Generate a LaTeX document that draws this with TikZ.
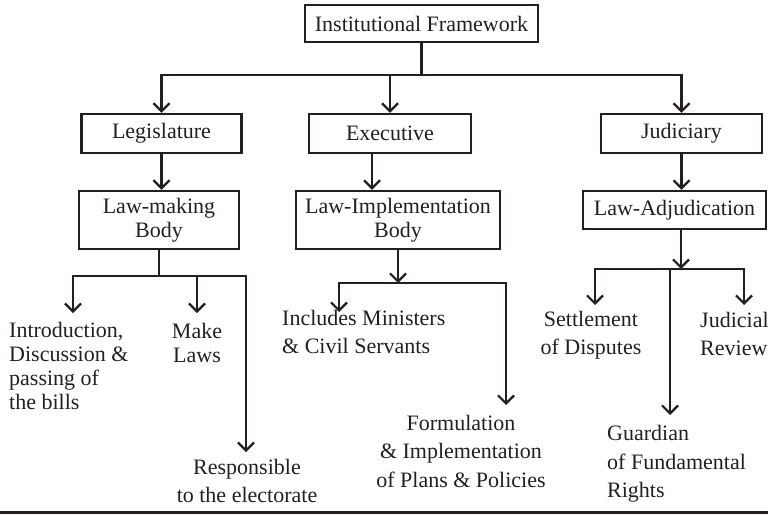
\documentclass[tikz,border=0pt]{standalone}
\usepackage{fontspec}
\setmainfont{Liberation Serif}
\usetikzlibrary{arrows.meta,positioning,calc}

\definecolor{ink}{HTML}{231F20}
\tikzset{
 box/.style={draw=ink,text=ink,line width=2.4pt,align=center,inner sep=0pt},
 ln/.style={draw=ink,line width=2.2pt},
 arr/.style={ln,-{Straight Barb[length=8pt,width=16pt]}},
 lbl/.style={text=ink,inner sep=0pt,align=center,font=\fontsize{22}{28.5}\selectfont}
}

\begin{document}
\begin{tikzpicture}[x=1pt,y=-1pt,font=\fontsize{22}{24}\selectfont]
\useasboundingbox (0,0) rectangle (768,514);
\clip (0,0) rectangle (768,514);
% the boxes
\node[box,minimum width=233pt,minimum height=37pt] (frame) at (421.5,23.5) {Institutional Framework};
\node[box,minimum width=160pt,minimum height=39pt] (leg) at (161.5,133.5) {Legislature};
\node[box,minimum width=162pt,minimum height=39pt] (exe) at (390,133.5) {Executive};
\node[box,minimum width=161pt,minimum height=39pt] (jud) at (681.5,133.5) {Judiciary};
\node[box,minimum width=160pt,minimum height=58pt] (lmb) at (159,220) {Law-making\\Body};
\node[box,minimum width=204pt,minimum height=58pt] (lib) at (398,220) {Law-Implementation\\Body};
\node[box,minimum width=183pt,minimum height=38pt] (lab) at (674.5,210) {Law-Adjudication};
% the functions
\node[lbl,anchor=west,align=left,font=\fontsize{22}{23.7}\selectfont] (intro) at (9,366) {Introduction,\\Discussion \&\\passing of\\the bills};
\node[lbl,font=\fontsize{22}{24}\selectfont] (make) at (197,343) {Make\\Laws};
\node[lbl] (resp) at (247,481) {Responsible\\to the electorate};
\node[lbl,anchor=west,align=left] (incl) at (282,332) {Includes Ministers\\\& Civil Servants};
\node[lbl] (form) at (461,451) {Formulation\\\& Implementation\\of Plans \& Policies};
\node[lbl] (settle) at (591,335) {Settlement\\of Disputes};
\node[lbl,anchor=west,align=left] (guard) at (607,464) {Guardian\\of Fundamental\\Rights};
\node[lbl,anchor=west,align=left] (review) at (700,334) {Judicial\\Review};
% junctions and arrow ends
\coordinate (j0) at (421.5,75); \coordinate (j1) at (159,276);
\coordinate (j2) at (398,283); \coordinate (j3) at (681,269);
\coordinate (intro-in) at (73,313); \coordinate (make-in) at (197,313);
\coordinate (resp-in) at (246,452); \coordinate (incl-in) at (339,312);
\coordinate (form-in) at (506,405); \coordinate (settle-in) at (595,305);
\coordinate (guard-in) at (670,415); \coordinate (review-in) at (744,305);
% top level
\draw[ln] (frame) -- (j0);
\foreach \b in {leg,exe,jud} \draw[arr] (j0) -| (\b);
\draw[arr] (leg) -- (leg.south |- lmb.north);
\draw[arr] ([xshift=-18pt]exe.south) -- ([xshift=-18pt]exe.south |- lib.north);
\draw[arr] (jud) -- (jud.south |- lab.north);
% legislature
\draw[ln] (lmb) -- (j1);
\foreach \e in {intro-in,resp-in} \draw[arr] (j1) -| (\e);
\draw[arr] (j1 -| make-in) -- (make-in);
% executive
\draw[arr] (lib) -- (j2);
\foreach \e in {incl-in,form-in} \draw[arr] (j2) -| (\e);
% judiciary
\draw[arr] (lab.south -| j3) -- (j3);
\foreach \e in {settle-in,review-in} \draw[arr] (j3) -| (\e);
\draw[arr] (j3 -| guard-in) -- (guard-in);
% rule at the foot
\draw[ink,line width=3pt] (0,512) -- (768,512);
\end{tikzpicture}
\end{document}
